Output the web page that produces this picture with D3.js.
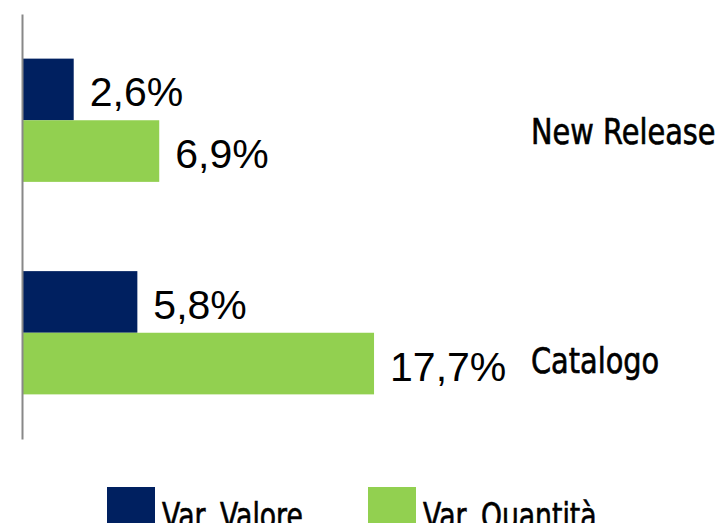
<!DOCTYPE html>
<html>
<head>
<meta charset="utf-8">
<script src="https://cdn.jsdelivr.net/npm/d3@7"></script>
<style>
  html, body { margin: 0; padding: 0; background: #fff; overflow: hidden; }
  .cat, .legend text { font-family: "DejaVu Sans", sans-serif; stroke: #000; stroke-width: 0.7px; }
  .val { font-family: "Liberation Sans", Arial, sans-serif; }
</style>
</head>
<body>
<div id="chart"></div>
<script>
var categories = ["New Release", "Catalogo"];
var seriesNames = ["Var. Valore", "Var. Quantità"];
var valore = [2.6, 5.8];
var quantita = [6.9, 17.7];

var colors = ["#002060", "#92D050"];
var width = 722, height = 523;

// label nudges, layout only
var catNudge = {"New Release": 0, "Catalogo": 16};

var rows = categories.map(function(c, i) {
  return {cat: c, values: [valore[i], quantita[i]]};
});

var comma = d3.formatLocale({decimal: ",", thousands: ".", grouping: [3], currency: ["", "%"]});
var fmt = function(v) { return comma.format(".1f")(v) + "%"; };

// squeeze a text horizontally, the reference uses a condensed face
function squeeze(sel, k) {
  sel.each(function() {
    var w = this.getComputedTextLength();
    d3.select(this)
      .attr("textLength", w * k)
      .attr("lengthAdjust", "spacingAndGlyphs");
  });
}

var svg = d3.select("#chart").append("svg")
    .attr("width", width)
    .attr("height", height);

var y = d3.scaleBand()
    .domain(categories)
    .range([14, 439])
    .paddingInner(0.42)
    .paddingOuter(0.21);

var ySub = d3.scaleBand()
    .domain(d3.range(seriesNames.length))
    .range([0, y.bandwidth()]);

var x = d3.scaleLinear()
    .domain([0, 18])
    .range([22, 380]);

var groups = svg.selectAll("g.grp").data(rows)
  .enter().append("g")
    .attr("class", "grp")
    .attr("transform", function(d) { return "translate(0," + y(d.cat) + ")"; });

groups.selectAll("rect").data(function(d) { return d.values; })
  .enter().append("rect")
    .attr("x", x(0))
    .attr("y", function(d, i) { return ySub(i); })
    .attr("width", function(d) { return x(d) - x(0); })
    .attr("height", ySub.bandwidth())
    .style("fill", function(d, i) { return colors[i]; });

groups.selectAll("text.val").data(function(d) { return d.values; })
  .enter().append("text")
    .attr("class", "val")
    .attr("x", function(d) { return x(d) + 16; })
    .attr("y", function(d, i) { return ySub(i) + ySub.bandwidth() / 2 + 17; })
    .style("font-size", "41px")
    .style("fill", "#000")
    .text(fmt);

groups.append("text")
    .attr("class", "cat")
    .attr("x", 531)
    .attr("y", function(d) { return y.bandwidth() / 2 + 24 + catNudge[d.cat]; })
    .style("font-size", "36px")
    .style("fill", "#000")
    .text(function(d) { return d.cat; })
    .call(squeeze, 0.8);

var axis = d3.axisLeft(y).tickSize(0).tickSizeOuter(0).tickFormat("");
var axisG = svg.append("g")
    .attr("transform", "translate(" + x(0) + ",0)")
    .call(axis);
axisG.select(".domain").style("stroke", "#888").style("stroke-width", 2);

var legendX = [107, 368];
var legend = svg.append("g").attr("class", "legend")
  .selectAll("g").data(seriesNames)
  .enter().append("g")
    .attr("transform", function(d, i) { return "translate(" + legendX[i] + ",487)"; });

legend.append("rect")
    .attr("width", 48)
    .attr("height", 48)
    .style("fill", function(d, i) { return colors[i]; })
    .style("stroke", "none");

legend.append("text")
    .attr("x", 55)
    .attr("y", 41)
    .style("font-size", "36px")
    .style("fill", "#000")
    .text(function(d) { return d; })
    .call(squeeze, 0.74);
</script>
</body>
</html>
